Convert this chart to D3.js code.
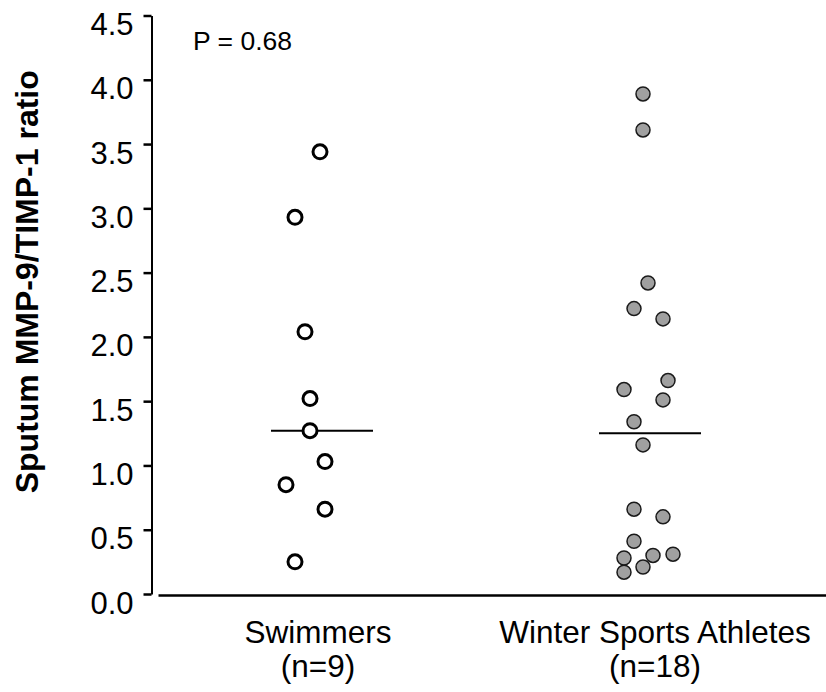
<!DOCTYPE html>
<html>
<head>
<meta charset="utf-8">
<script src="https://cdn.jsdelivr.net/npm/d3@7"></script>
<style>
  html, body { margin: 0; padding: 0; background: #fff; }
  svg { display: block; }
  text { font-family: Arial, "Liberation Sans", sans-serif; fill: #000; }
</style>
</head>
<body>
<svg id="chart" width="826" height="692"></svg>
<script>
// ---- data ----
const categories = ["Swimmers", "Winter Sports Athletes"];
const categorySizes = ["(n=9)", "(n=18)"];
const swimmerValues = [3.44, 2.93, 2.04, 1.52, 1.27, 1.03, 0.85, 0.66, 0.25];
const swimmerJitter = [-2, -27, -17, -12, -12, 3, -36, 3, -27];
const winterValues = [3.89, 3.61, 2.42, 2.22, 2.14, 1.66, 1.59, 1.51, 1.34, 1.16, 0.66, 0.60, 0.41, 0.31, 0.30, 0.28, 0.21, 0.17];
const winterJitter = [-7, -7, -2, -16, 13, 18, -26, 13, -16, -7, -16, 13, -16, 23, 3, -26, -7, -26];
const medians = [1.27, 1.25];
const yTicks = [0, 0.5, 1.0, 1.5, 2.0, 2.5, 3.0, 3.5, 4.0, 4.5];
const yLabel = "Sputum MMP-9/TIMP-1 ratio";
const pText = "P = 0.68";

// ---- layout ----
const svg = d3.select("#chart");
const axisX = 151.5;
const y = d3.scaleLinear().domain([0, 4.5]).range([594, 15.5]);
const x = d3.scalePoint().domain(categories).range([322, 650]);

// y axis
const yAxis = d3.axisLeft(y)
  .tickValues(yTicks)
  .tickFormat(d3.format(".1f"))
  .tickSize(8)
  .tickSizeOuter(0)
  .tickPadding(10);

const gy = svg.append("g")
  .attr("transform", `translate(${axisX},0)`)
  .call(yAxis);
gy.select(".domain").attr("stroke", "#000").attr("stroke-width", 2);
gy.selectAll(".tick line").attr("stroke", "#000").attr("stroke-width", 2.5);
gy.selectAll(".tick text")
  .attr("font-size", 31)
  .attr("font-family", "Arial, 'Liberation Sans', sans-serif")
  .attr("fill", "#000")
  .attr("dy", null)
  .attr("y", 19);

// x axis line (no ticks)
const xAxis = d3.axisBottom(d3.scaleLinear().domain([0, 1]).range([158, 826]))
  .tickValues([])
  .tickSizeOuter(0);
const gx = svg.append("g")
  .attr("transform", `translate(0,${y(0) + 1})`)
  .call(xAxis);
gx.select(".domain").attr("stroke", "#000").attr("stroke-width", 2.5);

// category labels
const labelShift = [-4, 5];
categories.forEach((c, i) => {
  svg.append("text")
    .attr("x", x(c) + labelShift[i])
    .attr("y", 643)
    .attr("text-anchor", "middle")
    .attr("font-size", 31.5)
    .text(c);
  svg.append("text")
    .attr("x", x(c) + labelShift[i])
    .attr("y", 677)
    .attr("text-anchor", "middle")
    .attr("font-size", 31.5)
    .text(categorySizes[i]);
});

// y label
svg.append("text")
  .attr("transform", `translate(38,${(y(0) + y(4.5)) / 2 - 23}) rotate(-90)`)
  .attr("text-anchor", "middle")
  .attr("font-size", 32)
  .attr("font-weight", "bold")
  .text(yLabel);

// P value
svg.append("text")
  .attr("x", 193)
  .attr("y", 50)
  .attr("font-size", 26.5)
  .text(pText);

// median lines
svg.selectAll("line.median")
  .data(categories)
  .enter().append("line")
  .attr("class", "median")
  .attr("x1", d => x(d) - 51)
  .attr("x2", d => x(d) + 51)
  .attr("y1", (d, i) => y(medians[i]))
  .attr("y2", (d, i) => y(medians[i]))
  .attr("stroke", "#000")
  .attr("stroke-width", 2);

// swimmers: open circles
svg.selectAll("circle.swim")
  .data(swimmerValues)
  .enter().append("circle")
  .attr("class", "swim")
  .attr("cx", (d, i) => x(categories[0]) + swimmerJitter[i])
  .attr("cy", d => y(d))
  .attr("r", 7)
  .attr("fill", "#fff")
  .attr("stroke", "#000")
  .attr("stroke-width", 3);

// winter athletes: grey filled circles
svg.selectAll("circle.winter")
  .data(winterValues)
  .enter().append("circle")
  .attr("class", "winter")
  .attr("cx", (d, i) => x(categories[1]) + winterJitter[i])
  .attr("cy", d => y(d))
  .attr("r", 7)
  .attr("fill", "#a0a0a0")
  .attr("stroke", "#1a1a1a")
  .attr("stroke-width", 1.5);
</script>
</body>
</html>
